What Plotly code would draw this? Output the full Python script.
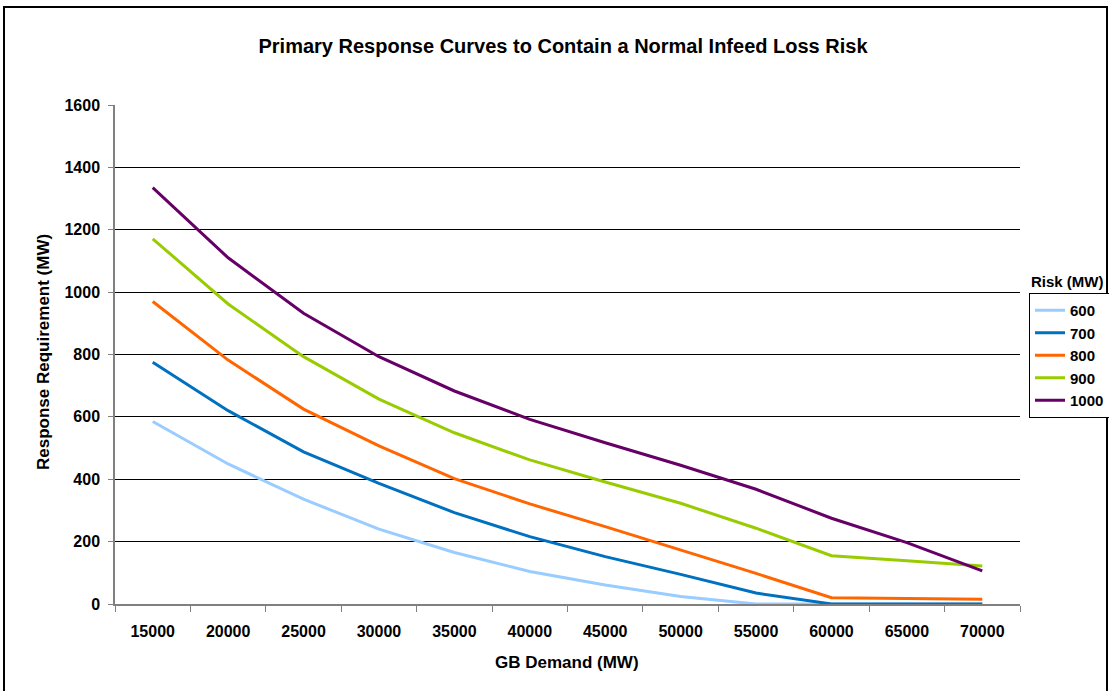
import plotly.graph_objects as go

# GB demand categories (MW)
demand = ["15000", "20000", "25000", "30000", "35000", "40000",
          "45000", "50000", "55000", "60000", "65000", "70000"]

# Primary response requirement (MW) for each infeed loss risk
risk_600 = [585, 449, 336, 240, 165, 104, 61, 24, 0, 0, 0, 0]
risk_700 = [775, 620, 488, 387, 293, 216, 152, 95, 35, 0, 0, 0]
risk_800 = [970, 782, 625, 507, 402, 321, 248, 173, 98, 20, 17, 15]
risk_900 = [1171, 962, 793, 657, 549, 462, 391, 323, 243, 155, 139, 122]
risk_1000 = [1335, 1110, 932, 793, 683, 592, 517, 445, 368, 275, 197, 106]

series_names = ["600", "700", "800", "900", "1000"]
series_values = [risk_600, risk_700, risk_800, risk_900, risk_1000]
series_colors = ["#99CCFF", "#0070C0", "#FF6600", "#99CC00", "#660066"]

FONT = "Liberation Sans, Arial, sans-serif"

fig = go.Figure()
for name, vals, col in zip(series_names, series_values, series_colors):
    fig.add_trace(go.Scatter(
        x=demand, y=vals, name="<b>" + name + "</b>", mode="lines",
        line=dict(color=col, width=3),
    ))

W, H = 1109, 691
L, R, T, B = 115, 1020, 105, 604  # plot area edges in pixels


def px_x(p):
    return (p - L) / (R - L)


def px_y(p):
    return (B - p) / (B - T)


fig.update_layout(
    width=W, height=H,
    margin=dict(l=L, r=W - R, t=T, b=H - B, autoexpand=False),
    paper_bgcolor="white", plot_bgcolor="white",
    font=dict(family=FONT, color="black", size=14),
    title=dict(
        text="<b>Primary Response Curves to Contain a Normal Infeed Loss Risk</b>",
        x=563 / W, xanchor="center", xref="container",
        y=1 - 46 / H, yanchor="middle",
        font=dict(size=20, family=FONT, color="black"),
    ),
    xaxis=dict(
        type="category", tickson="boundaries",
        showgrid=False, showline=True, linecolor="#808080", linewidth=1.5,
        ticks="outside", ticklen=6, tickcolor="#808080", tickwidth=1,
        tickfont=dict(size=16, family=FONT, color="black", weight="bold"),
        ticklabelstandoff=12,
        range=[-0.5, 11.5],
    ),
    yaxis=dict(
        range=[0, 1600], dtick=200, tick0=0,
        showgrid=True, gridcolor="black", gridwidth=1,
        zeroline=False, showline=True, linecolor="#808080", linewidth=1.5,
        ticks="outside", ticklen=5, tickcolor="#808080", tickwidth=1,
        tickfont=dict(size=16, family=FONT, color="black", weight="bold"),
        tickformat="d", ticklabelstandoff=5,
    ),
    legend=dict(
        x=px_x(1029), y=px_y(293), xanchor="left", yanchor="top",
        bgcolor="white", bordercolor="black", borderwidth=1,
        font=dict(size=15, family=FONT, color="black"),
        itemwidth=30, tracegroupgap=0,
    ),
    showlegend=True,
)

fig.add_annotation(
    text="<b>GB Demand (MW)</b>", xref="paper", yref="paper",
    x=px_x(567), y=px_y(662), xanchor="center", yanchor="middle",
    showarrow=False, font=dict(size=17, family=FONT, color="black"),
)
fig.add_annotation(
    text="<b>Response Requirement (MW)</b>", xref="paper", yref="paper",
    x=px_x(43), y=px_y(352), xanchor="center", yanchor="middle",
    textangle=-90, showarrow=False,
    font=dict(size=17, family=FONT, color="black"),
)
fig.add_annotation(
    text="<b>Risk (MW)</b>", xref="paper", yref="paper",
    x=px_x(1067), y=px_y(281), xanchor="center", yanchor="middle",
    showarrow=False, font=dict(size=15, family=FONT, color="black"),
)

# outer chart border
fig.add_shape(
    type="rect", xref="paper", yref="paper",
    x0=px_x(4), x1=px_x(1107), y0=px_y(730), y1=px_y(7),
    line=dict(color="black", width=2), fillcolor="rgba(0,0,0,0)",
    layer="below",
)

fig.write_html("out.html")
